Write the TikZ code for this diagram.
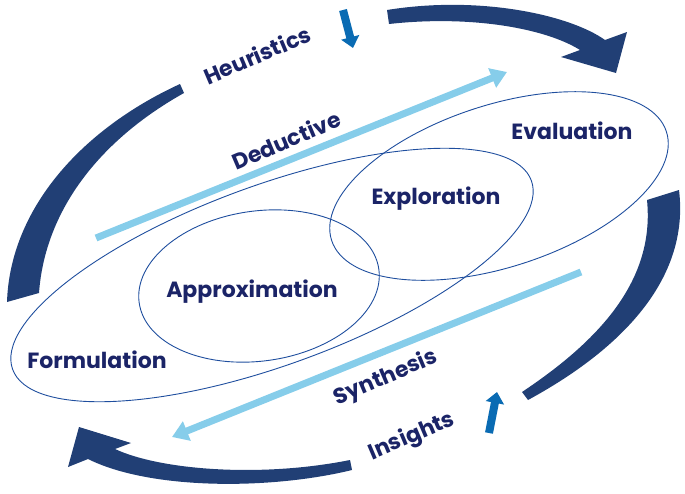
\documentclass[tikz,border=0pt]{standalone}
\usepackage{fontspec}
\setmainfont{Poppins}
\usetikzlibrary{arrows.meta}
\definecolor{navy}{HTML}{213F75}
\definecolor{txt}{HTML}{1B2467}
\definecolor{lblue}{HTML}{86CDEA}
\definecolor{mblue}{HTML}{0A6BB3}
\definecolor{eline}{HTML}{1F4E9E}
\begin{document}
\begin{tikzpicture}[x=1pt,y=-1pt,
  lab/.style={text=txt,font=\fontsize{22}{22}\selectfont\bfseries,inner sep=0},
  ell/.style={draw=eline,line width=0.9pt},
  band/.style={fill=navy,draw=none},
  light/.style={draw=lblue,line width=7pt,-{Triangle[length=16pt,width=20pt]}},
  small/.style={draw=mblue,line width=8pt,-{Triangle[length=11pt,width=18pt]}}]
\useasboundingbox (0,0) rectangle (685,493);
% ellipses
\draw[ell,rotate around={20:(272,275)}] (272,275) ellipse [x radius=276,y radius=90];
\draw[ell,rotate around={18:(499,186)}] (499,186) ellipse [x radius=176,y radius=81];
\draw[ell,rotate around={8:(259,286)}] (259,286) ellipse [x radius=121,y radius=75];
% bands
\path[band] (387,10) .. controls (480,-5) and (570,15) .. (605,40) -- (627,32) -- (616,73) -- (561,57) -- (580,50) .. controls (545,28) and (470,15) .. (389,24) -- cycle;
\path[band] (350,460) .. controls (260,478) and (160,470) .. (115,449) -- (131,443) -- (79,427) -- (68,467) -- (88,459) .. controls (150,490) and (270,490) .. (352,470) -- cycle;
\path[band] (180,84) .. controls (80,130) and (10,210) .. (7,302) -- (39,293) .. controls (45,210) and (100,140) .. (184,93) -- cycle;
\path[band] (679,190) .. controls (690,280) and (620,350) .. (528,400) -- (522,392) .. controls (600,340) and (655,280) .. (647,200) -- cycle;
% light arrows
\coordinate (d1) at (96,238); \coordinate (d2) at (507,72);
\coordinate (s1) at (581,272); \coordinate (s2) at (172,437);
\draw[light] (d1) -- (d2);
\draw[light] (s1) -- (s2);
\coordinate (h1) at (343,10); \coordinate (h2) at (353,48);
\coordinate (i1) at (489,433); \coordinate (i2) at (497,392);
\draw[small] (h1) -- (h2);
\draw[small] (i1) -- (i2);
% labels
\node[lab,rotate=23] (heu) at (257,55) {Heuristics};
\node[lab,rotate=23] (ded) at (286,140) {Deductive};
\node[lab] (eva) at (572,131) {Evaluation};
\node[lab] (exp) at (436,199) {Exploration};
\node[lab] (app) at (252,292) {Approximation};
\node[lab] (for) at (97,360) {Formulation};
\node[lab,rotate=23] (syn) at (386,378) {Synthesis};
\node[lab,rotate=23] (ins) at (412,437) {Insights};
\end{tikzpicture}
\end{document}
